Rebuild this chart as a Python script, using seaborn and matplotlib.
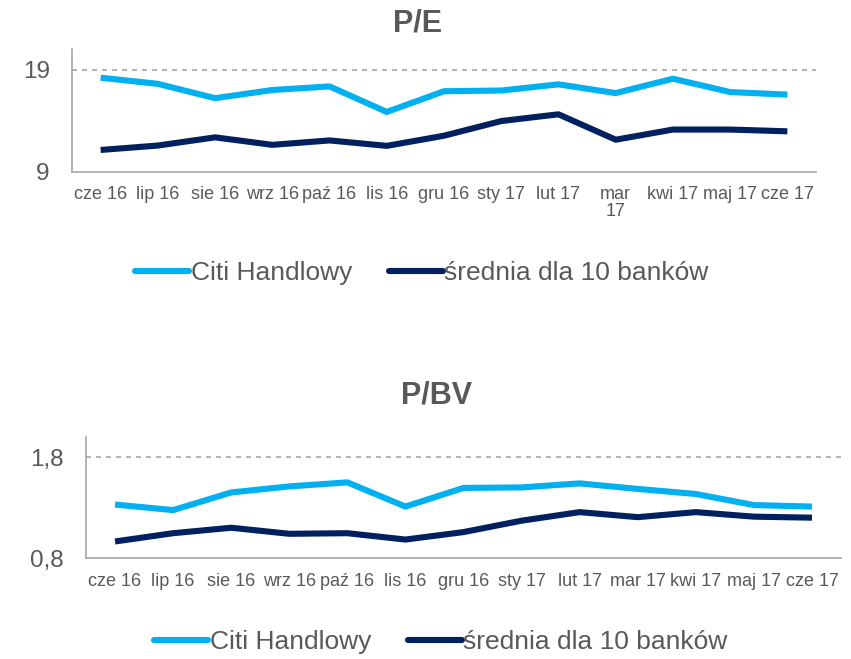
import matplotlib
matplotlib.use("Agg")
import matplotlib.pyplot as plt
import seaborn as sns
import pandas as pd
import numpy as np

months = ["cze 16", "lip 16", "sie 16", "wrz 16", "paź 16", "lis 16", "gru 16",
          "sty 17", "lut 17", "mar 17", "kwi 17", "maj 17", "cze 17"]
months_pe_labels = ["cze 16", "lip 16", "sie 16", "wrz 16", "paź 16", "lis 16", "gru 16",
                    "sty 17", "lut 17", "mar\n17", "kwi 17", "maj 17", "cze 17"]
series_names = ["Citi Handlowy", "średnia dla 10 banków"]

pe_citi = [18.2, 17.6, 16.2, 17.0, 17.35, 14.86, 16.88, 16.95, 17.55, 16.7, 18.1, 16.8, 16.55]
pe_avg = [11.15, 11.58, 12.38, 11.65, 12.08, 11.55, 12.54, 13.97, 14.63, 12.15, 13.14, 13.14, 12.97]

pbv_citi = [1.33, 1.275, 1.45, 1.51, 1.55, 1.31, 1.495, 1.50, 1.54, 1.485, 1.435, 1.325, 1.31]
pbv_avg = [0.964, 1.046, 1.10, 1.04, 1.046, 0.983, 1.057, 1.17, 1.255, 1.205, 1.255, 1.21, 1.20]

colors = ["#00B0F0", "#002060"]
gray_text = "#595959"
axis_gray = "#A6A6A6"

sns.set_theme(style="white")
plt.rcParams['font.family'] = ['Liberation Sans', 'DejaVu Sans']

W, H = 851, 659
fig = plt.figure(figsize=(W / 100, H / 100), dpi=100)


def make_df(a, b):
    return pd.DataFrame({
        "month": months * 2,
        "value": a + b,
        "series": [series_names[0]] * len(months) + [series_names[1]] * len(months),
    })


def draw(ax, df, ylim, yticks, yticklabels, xlabels, title, title_xy, legend_xy, xpad):
    sns.lineplot(data=df, x="month", y="value", hue="series", palette=colors,
                 linewidth=4.4, ax=ax, sort=False, legend=False,
                 solid_capstyle="butt")
    ax.set_xlim(-0.5, len(months) - 0.5)
    ax.set_ylim(*ylim)
    ax.set_xticks(range(len(months)))
    ax.set_xticklabels(xlabels, fontsize=13, color=gray_text, linespacing=1.0)
    ax.set_xticks(np.arange(-0.5, len(months), 1.0), minor=True)
    ax.tick_params(axis="x", which="major", length=0, pad=xpad)
    ax.tick_params(axis="x", which="minor", length=3.5, color=axis_gray, width=1.2, direction="out")
    ax.set_yticks(yticks)
    ax.set_yticklabels(yticklabels, fontsize=17.5, color=gray_text)
    ax.tick_params(axis="y", length=6, color=axis_gray, width=1.2, direction="out", pad=10)
    ax.axhline(yticks[-1], color="#A6A6A6", linestyle=(0, (3, 3)), linewidth=1.2, zorder=0)
    for s in ["top", "right"]:
        ax.spines[s].set_visible(False)
    for s in ["left", "bottom"]:
        ax.spines[s].set_color(axis_gray)
        ax.spines[s].set_linewidth(1.2)
    ax.set_xlabel("")
    ax.set_ylabel("")
    fig.text(title_xy[0] / W, 1 - title_xy[1] / H, title, fontsize=22, fontweight="bold",
             color=gray_text, ha="center", va="center")
    handles = [plt.Line2D([], [], color=c, linewidth=4.4, solid_capstyle="round") for c in colors]
    fig.legend(handles, series_names, loc="center",
               bbox_to_anchor=(legend_xy[0] / W, 1 - legend_xy[1] / H),
               ncol=2, frameon=False, fontsize=19, handlelength=2.05, handletextpad=0.05,
               columnspacing=1.4, labelcolor=gray_text, borderaxespad=0, borderpad=0)


def axes_rect(x0, x1, y0, y1):
    return [x0 / W, 1 - y1 / H, (x1 - x0) / W, (y1 - y0) / H]


ax1 = fig.add_axes(axes_rect(72, 816, 49, 172))
draw(ax1, make_df(pe_citi, pe_avg), (9, 21), [9, 19], ["9", "19"], months_pe_labels, "P/E",
     (418, 23), (422, 273), 10)

ax2 = fig.add_axes(axes_rect(86, 841, 437, 558))
draw(ax2, make_df(pbv_citi, pbv_avg), (0.8, 2.0), [0.8, 1.8], ["0,8", "1,8"], months, "P/BV",
     (437, 395), (441, 642), 11)

fig.savefig("out.png", dpi=100)
